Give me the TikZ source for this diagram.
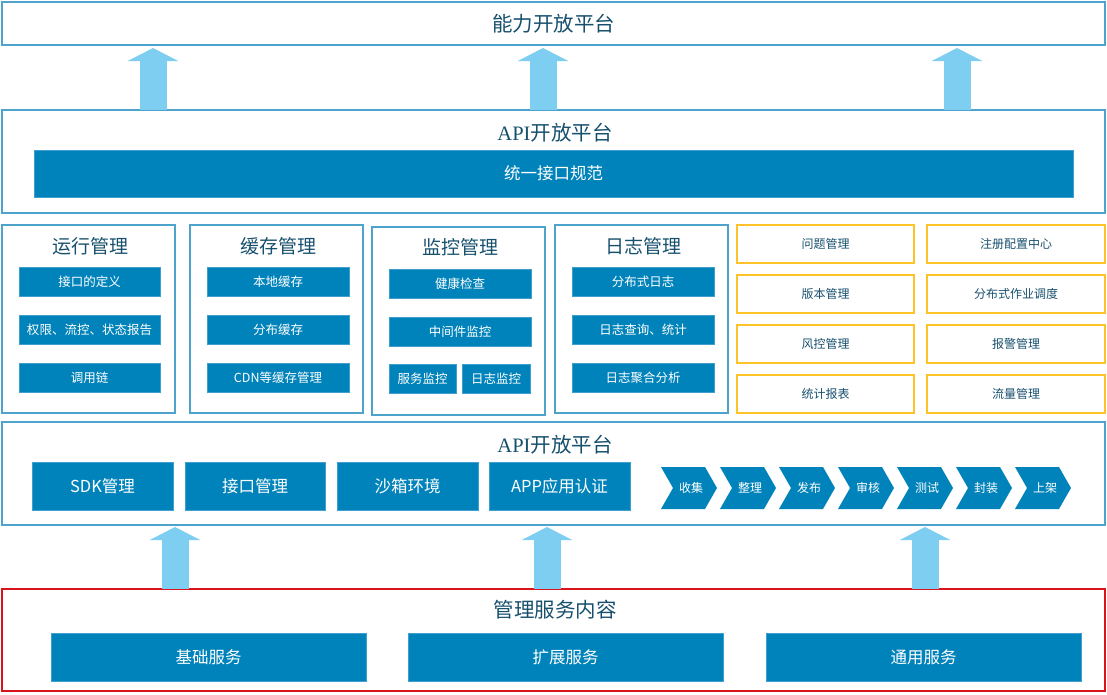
\documentclass[tikz,border=0pt]{standalone}
\usepackage{fontspec}
\setmainfont{Noto Sans CJK SC}
\newfontfamily\latinserif{Liberation Serif}
\usetikzlibrary{arrows.meta}

\definecolor{layerblue}{HTML}{4DA3CB}
\definecolor{boxblue}{HTML}{0083BA}
\definecolor{boxedge}{HTML}{3FA0CF}
\definecolor{arrowblue}{HTML}{7DCEF0}
\definecolor{titleblue}{HTML}{17506D}
\definecolor{lineyellow}{HTML}{FFC32A}
\definecolor{linered}{HTML}{D9121B}

\tikzset{
	layer/.style={draw=layerblue, line width=1.5pt, outer sep=0pt, inner sep=0pt, minimum width=1103pt},
	group/.style={draw=layerblue, line width=1.5pt, outer sep=0pt, minimum width=173pt, minimum height=188pt},
	title/.style={text=titleblue, font=\fontsize{19pt}{21pt}\selectfont},
	bigtitle/.style={text=titleblue, font=\fontsize{20.5pt}{22pt}\selectfont},
	bar/.style={fill=boxblue, draw=boxedge, line width=0.8pt, text=white, outer sep=0pt, inner sep=0pt},
	item/.style={bar, minimum height=29pt, font=\fontsize{12.5pt}{14pt}\selectfont},
	bigitem/.style={bar, minimum height=48pt, font=\fontsize{16.5pt}{18pt}\selectfont},
	tag/.style={draw=lineyellow, line width=1.5pt, outer sep=0pt, minimum height=38pt, text=titleblue, font=\fontsize{12pt}{14pt}\selectfont},
	chevron/.style={fill=boxblue},
	chevtext/.style={text=white, font=\fontsize{12pt}{14pt}\selectfont},
	uparrow/.style={draw=arrowblue, line width=27pt, -{Triangle[width=50pt,length=13pt]}},
}

\begin{document}
\begin{tikzpicture}[x=1pt,y=-1pt]
	\useasboundingbox (0,0) rectangle (1107,694);

	% top platform
	\node[layer, minimum height=43pt, bigtitle] (top) at (553.5,23.5) {能力开放平台};

	% API platform with unified spec
	\node[layer, minimum height=103pt] (api) at (553.5,161.5) {};
	\node[bigtitle] (apititle) at (555,133) {{\latinserif API}开放平台};
	\node[bar, minimum width=1039pt, minimum height=47pt, font=\fontsize{16.5pt}{18pt}\selectfont] (spec) at (553.5,173.5) {统一接口规范};

	\coordinate (ua) at (153,0);
	\coordinate (ub) at (543,0);
	\coordinate (uc) at (957,0);
	\draw[uparrow, shorten >=3pt] (api.north -| ua) -- (top.south -| ua);
	\draw[uparrow, shorten >=3pt] (api.north -| ub) -- (top.south -| ub);
	\draw[uparrow, shorten >=3pt] (api.north -| uc) -- (top.south -| uc);

	% management groups
	\node[group] (run) at (88.5,319) {};
	\node[title] (runtitle) at (90,246) {运行管理};
	\node[item, minimum width=141pt] (run1) at (89.5,281.5) {接口的定义};
	\node[item, minimum width=141pt] (run2) at (89.5,329.5) {权限、流控、状态报告};
	\node[item, minimum width=141pt] (run3) at (89.5,377.5) {调用链};

	\node[group] (cache) at (276.5,319) {};
	\node[title] (cachetitle) at (278,246) {缓存管理};
	\node[item, minimum width=142pt] (cache1) at (278,281.5) {本地缓存};
	\node[item, minimum width=142pt] (cache2) at (278,329.5) {分布缓存};
	\node[item, minimum width=142pt] (cache3) at (278,377.5) {CDN等缓存管理};

	\node[group] (mon) at (458.5,321) {};
	\node[title] (montitle) at (460,247) {监控管理};
	\node[item, minimum width=142pt] (mon1) at (460,283.5) {健康检查};
	\node[item, minimum width=142pt] (mon2) at (460,331.5) {中间件监控};
	\node[item, minimum width=67pt] (mon3) at (422.5,379) {服务监控};
	\node[item, minimum width=68pt] (mon4) at (496,379) {日志监控};

	\node[group] (log) at (641.5,319) {};
	\node[title] (logtitle) at (643,246) {日志管理};
	\node[item, minimum width=142pt] (log1) at (643,281.5) {分布式日志};
	\node[item, minimum width=142pt] (log2) at (643,329.5) {日志查询、统计};
	\node[item, minimum width=142pt] (log3) at (643,377.5) {日志聚合分析};

	\node[tag, minimum width=177pt] (issue) at (825.5,244) {问题管理};
	\node[tag, minimum width=177pt] (version) at (825.5,294) {版本管理};
	\node[tag, minimum width=177pt] (risk) at (825.5,344) {风控管理};
	\node[tag, minimum width=177pt] (report) at (825.5,394) {统计报表};
	\node[tag, minimum width=178pt] (config) at (1016,244) {注册配置中心};
	\node[tag, minimum width=178pt] (jobs) at (1016,294) {分布式作业调度};
	\node[tag, minimum width=178pt] (alarm) at (1016,344) {报警管理};
	\node[tag, minimum width=178pt] (traffic) at (1016,394) {流量管理};

	% lower API platform
	\node[layer, minimum height=103pt] (open) at (553.5,473.5) {};
	\node[bigtitle] (opentitle) at (555,445) {{\latinserif API}开放平台};
	\node[bigitem, minimum width=141pt] (sdk) at (102.5,486) {SDK管理};
	\node[bigitem, minimum width=140pt] (iface) at (255,486) {接口管理};
	\node[bigitem, minimum width=141pt] (sandbox) at (407.5,486) {沙箱环境};
	\node[bigitem, minimum width=141pt] (auth) at (559.5,486) {APP应用认证};

	\foreach \t [count=\i] in {收集,整理,发布,审核,测试,封装,上架}{
		\pgfmathsetmacro\xa{602+59*\i}
		\fill[chevron] (\xa,467) -- ++(44,0) -- ++(12,21) -- ++(-12,21) -- ++(-44,0) -- ++(12,-21) -- cycle;
		\node[chevtext] (step\i) at (\xa+30,488) {\t};
	}

	% service contents
	\node[draw=linered, line width=1.2pt, outer sep=0pt, minimum width=1103pt, minimum height=102pt] (serv) at (553.5,640) {};
	\node[bigtitle] (servtitle) at (555,610) {管理服务内容};
	\node[bigitem, minimum width=315pt] (base) at (208.5,657) {基础服务};
	\node[bigitem, minimum width=315pt] (ext) at (565.5,657) {扩展服务};
	\node[bigitem, minimum width=315pt] (common) at (923.5,657) {通用服务};

	\coordinate (da) at (175,0);
	\coordinate (db) at (547,0);
	\coordinate (dc) at (925,0);
	\draw[uparrow, shorten >=2pt] (serv.north -| da) -- (open.south -| da);
	\draw[uparrow, shorten >=2pt] (serv.north -| db) -- (open.south -| db);
	\draw[uparrow, shorten >=2pt] (serv.north -| dc) -- (open.south -| dc);
\end{tikzpicture}
\end{document}
